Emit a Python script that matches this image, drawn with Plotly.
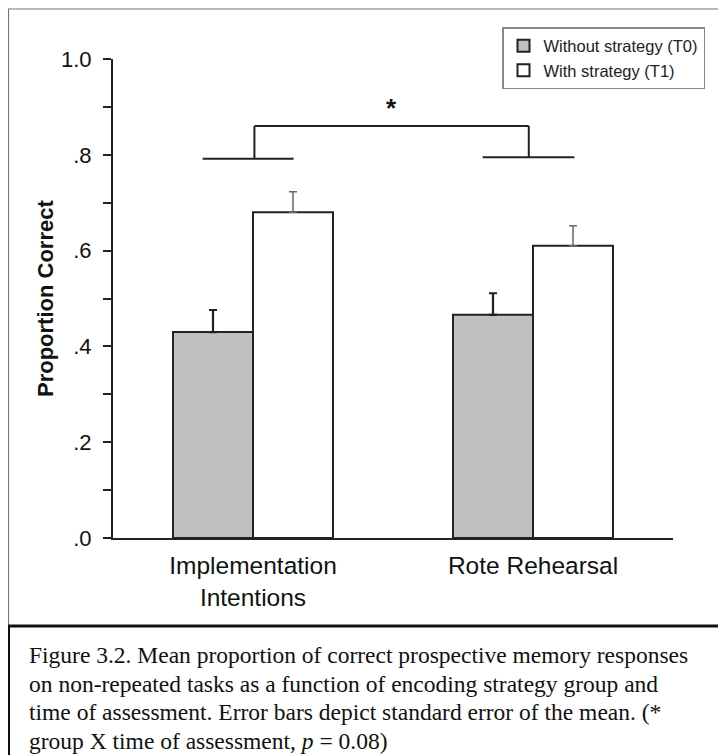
import plotly.graph_objects as go

categories = ["Implementation<br>Intentions", "Rote Rehearsal"]
without_vals = [0.43, 0.466]
without_se = [0.046, 0.045]
with_vals = [0.68, 0.61]
with_se = [0.043, 0.042]
series_names = ["Without strategy (T0)", "With strategy (T1)"]
tick_vals = [0.0, 0.2, 0.4, 0.6, 0.8, 1.0]
tick_text = [".0", ".2", ".4", ".6", ".8", "1.0"]
caption_lines = [
    "Figure 3.2. Mean proportion of correct prospective memory responses",
    "on non-repeated tasks as a function of encoding strategy group and",
    "time of assessment. Error bars depict standard error of the mean. (*",
    "group X time of assessment, <i>p</i> = 0.08)",
]

OFF = 8  # page body margin
W, H = 726 - OFF, 755 - OFF
# plot area in reference (window) pixels: x 113..673, y 59..538
L = 113 - OFF
T = 59 - OFF
R = W - (673 - OFF)
B = H - (538 - OFF)
pw, ph = W - L - R, H - T - B


def px(x):
    return (x - OFF - L) / pw


def py(y):
    return (H - B - (y - OFF)) / ph


fig = go.Figure()
fig.add_trace(go.Bar(
    x=categories, y=without_vals, name=series_names[0],
    marker=dict(color="#c0c0c0", line=dict(color="#222", width=2)),
    error_y=dict(type="data", symmetric=False, array=without_se,
                 arrayminus=[0, 0], color="#222", thickness=2.2, width=4),
    legendgroup="a",
))
fig.add_trace(go.Bar(
    x=categories, y=with_vals, name=series_names[1],
    marker=dict(color="#ffffff", line=dict(color="#222", width=2)),
    error_y=dict(type="data", symmetric=False, array=with_se,
                 arrayminus=[0, 0], color="#666", thickness=1.5, width=4),
    legendgroup="b",
))

line_style = dict(color="#222", width=2)
shapes = [
    dict(type="line", xref="x", yref="y", x0=-0.18, x1=0.145, y0=0.792, y1=0.792, line=line_style),
    dict(type="line", xref="x", yref="y", x0=0.005, x1=0.005, y0=0.792, y1=0.860, line=line_style),
    dict(type="line", xref="x", yref="y", x0=0.005, x1=0.985, y0=0.860, y1=0.860, line=line_style),
    dict(type="line", xref="x", yref="y", x0=0.985, x1=0.985, y0=0.795, y1=0.860, line=line_style),
    dict(type="line", xref="x", yref="y", x0=0.82, x1=1.148, y0=0.795, y1=0.795, line=line_style),
    # outer frame
    dict(type="rect", xref="paper", yref="paper", x0=px(8.5), x1=px(760), y0=py(626), y1=py(9),
         line=dict(color="#777", width=1.2), layer="below"),
    # caption box
    dict(type="rect", xref="paper", yref="paper", x0=px(8.5), x1=px(760), y0=py(790), y1=py(626),
         line=dict(color="#111", width=3)),
]

annotations = [
    dict(x=0.493, y=0.897, xref="x", yref="y", text="<b>*</b>", showarrow=False,
         font=dict(family="Liberation Sans", size=26, color="#111")),
    dict(x=px(31), y=0.5, xref="paper", yref="paper", text="<b>Proportion Correct</b>",
         showarrow=False, textangle=-90,
         font=dict(family="Liberation Sans", size=22, color="#111")),
]
for i, line in enumerate(caption_lines):
    annotations.append(dict(
        x=px(27), y=py(655 + 28.5 * i), xref="paper", yref="paper", text=line,
        showarrow=False, xanchor="left", yanchor="middle", align="left",
        font=dict(family="Liberation Serif", size=23.5, color="#111")))

fig.update_layout(
    width=W, height=H,
    margin=dict(l=L, r=R, t=T, b=B, pad=0),
    paper_bgcolor="white", plot_bgcolor="white",
    barmode="group", bargap=0.4286, bargroupgap=0,
    font=dict(family="Liberation Sans", color="#111"),
    shapes=shapes, annotations=annotations,
    legend=dict(x=px(502), y=py(27), xanchor="left", yanchor="top",
                bgcolor="white", bordercolor="#888", borderwidth=1.5,
                font=dict(family="Liberation Sans", size=16.5, color="#222"),
                traceorder="grouped", tracegroupgap=0, itemwidth=30),
    showlegend=True,
)
fig.update_xaxes(
    showline=True, linecolor="#222", linewidth=2, ticks="",
    tickfont=dict(family="Liberation Sans", size=24.5, color="#111"),
    showgrid=False, zeroline=False, range=[-0.5, 1.5], ticklabelstandoff=5,
)
fig.update_yaxes(
    range=[0, 1], tickvals=tick_vals, ticktext=tick_text,
    showline=True, linecolor="#222", linewidth=2,
    ticks="outside", ticklen=8, tickwidth=2, tickcolor="#222",
    minor=dict(dtick=0.1, ticks="outside", ticklen=8, tickwidth=2, tickcolor="#222"),
    tickfont=dict(family="Liberation Sans", size=22, color="#111"),
    showgrid=False, zeroline=False, ticklabelstandoff=7,
)

fig.write_html("out.html")
